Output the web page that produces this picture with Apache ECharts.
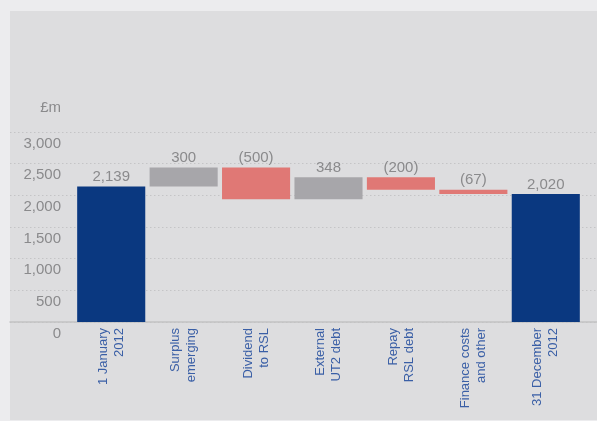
<!DOCTYPE html>
<html>
<head>
<meta charset="utf-8">
<script src="https://cdn.jsdelivr.net/npm/echarts@6/dist/echarts.min.js"></script>
<style>
html,body{margin:0;padding:0;background:#ececee;}
#chart{width:597px;height:421px;}
</style>
</head>
<body>
<div id="chart"></div>
<script>
const categories = ['1 January\n2012', 'Surplus\nemerging', 'Dividend\nto RSL', 'External\nUT2 debt', 'Repay\nRSL debt', 'Finance costs\nand other', '31 December\n2012'];
const openingValue = 2139;
const movements = [300, -500, 348, -200, -67];
const closingValue = 2020;
const yMin = 0, yMax = 3000, yStep = 500;

// build waterfall stacks from the data
const baseData = [0];
const totalData = [openingValue];
const incData = ['-'];
const decData = ['-'];
let running = openingValue;
movements.forEach(m => {
  if (m >= 0) {
    baseData.push(running); incData.push(m); decData.push('-');
    running += m;
  } else {
    running += m;
    baseData.push(running); decData.push(-m); incData.push('-');
  }
  totalData.push('-');
});
baseData.push(0); totalData.push(closingValue); incData.push('-'); decData.push('-');

const FONT = 'Liberation Sans, Arial, sans-serif';
const fmt = v => v.toLocaleString('en-GB');
const labelStyle = { show: true, position: 'top', distance: 2, color: '#8a8a8c', fontSize: 15, fontFamily: FONT };

const chart = echarts.init(document.getElementById('chart'), null, { renderer: 'canvas' });
chart.setOption({
  backgroundColor: '#ececee',
  animation: false,
  textStyle: { fontFamily: FONT },
  graphic: [{
    type: 'rect', z: -10, silent: true,
    shape: { x: 10, y: 11, width: 587, height: 409 },
    style: { fill: '#dddddf' }
  }],
  grid: [
    { left: 75, right: 15, top: 132, bottom: 99 },
    { left: 10, right: 0, top: 132, bottom: 99 }
  ],
  xAxis: [
    {
      gridIndex: 0, type: 'category', data: categories,
      axisLine: { show: false }, axisTick: { show: false },
      axisLabel: { rotate: 90, margin: 6, color: '#3a5fa6', fontSize: 13, lineHeight: 16, fontFamily: FONT, interval: 0 }
    },
    {
      gridIndex: 1, type: 'category', data: [''],
      axisLine: { show: true, lineStyle: { color: '#c2c2c4', width: 1.5 } },
      axisTick: { show: false }, axisLabel: { show: false }
    }
  ],
  yAxis: [
    {
      gridIndex: 0, type: 'value', min: yMin, max: yMax, interval: yStep,
      name: '£m', nameLocation: 'end', nameGap: 17,
      nameTextStyle: { color: '#8a8a8c', fontSize: 15, fontFamily: FONT, align: 'right', padding: [0, 14, 0, 0] },
      axisLine: { show: false }, axisTick: { show: false }, splitLine: { show: false },
      axisLabel: { color: '#8a8a8c', fontSize: 15, fontFamily: FONT, margin: 14, verticalAlign: 'top', padding: [4, 0, 0, 0], formatter: v => fmt(v) }
    },
    {
      gridIndex: 1, type: 'value', min: yMin, max: yMax, interval: yStep,
      axisLine: { show: false }, axisTick: { show: false }, axisLabel: { show: false },
      splitLine: { show: true, lineStyle: { color: '#c4c4c6', width: 1, type: [1.5, 2.5] } }
    }
  ],
  series: [
    {
      name: 'base', type: 'bar', stack: 'w', data: baseData, barCategoryGap: '6%',
      itemStyle: { color: 'transparent' }, silent: true
    },
    {
      name: 'total', type: 'bar', stack: 'w', data: totalData,
      itemStyle: { color: '#0a3880' },
      label: Object.assign({}, labelStyle, { formatter: p => fmt(p.value) })
    },
    {
      name: 'increase', type: 'bar', stack: 'w', data: incData,
      itemStyle: { color: '#a7a6aa' },
      label: Object.assign({}, labelStyle, { formatter: p => fmt(p.value) })
    },
    {
      name: 'decrease', type: 'bar', stack: 'w', data: decData,
      itemStyle: { color: '#e07875' },
      label: Object.assign({}, labelStyle, { formatter: p => '(' + fmt(p.value) + ')' })
    }
  ]
});
</script>
</body>
</html>
